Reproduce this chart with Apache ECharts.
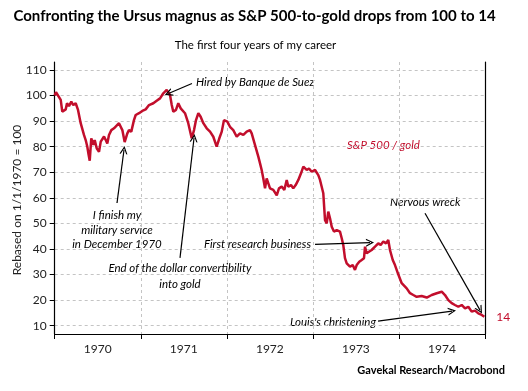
<!DOCTYPE html>
<html>
<head>
<meta charset="utf-8">
<script src="https://cdn.jsdelivr.net/npm/echarts@6/dist/echarts.min.js"></script>
<style>html,body{margin:0;padding:0;background:#fff}#c{width:528px;height:391px}</style>
</head>
<body>
<div id="c"></div>
<script>
// decimal years
var times = [1970.000,1970.015,1970.038,1970.070,1970.088,1970.128,1970.143,1970.166,1970.193,1970.216,1970.244,1970.271,1970.302,1970.340,1970.360,1970.379,1970.393,1970.407,1970.425,1970.449,1970.465,1970.488,1970.515,1970.535,1970.573,1970.593,1970.611,1970.631,1970.658,1970.689,1970.709,1970.747,1970.767,1970.786,1970.813,1970.844,1970.863,1970.890,1970.921,1970.941,1970.980,1971.018,1971.057,1971.096,1971.146,1971.185,1971.224,1971.262,1971.301,1971.340,1971.360,1971.378,1971.409,1971.436,1971.464,1971.487,1971.514,1971.552,1971.592,1971.619,1971.642,1971.669,1971.696,1971.727,1971.766,1971.805,1971.843,1971.882,1971.913,1971.941,1971.967,1972.006,1972.037,1972.075,1972.115,1972.153,1972.192,1972.231,1972.269,1972.289,1972.327,1972.366,1972.386,1972.405,1972.424,1972.444,1972.463,1972.482,1972.502,1972.540,1972.580,1972.606,1972.638,1972.668,1972.696,1972.714,1972.746,1972.772,1972.800,1972.831,1972.862,1972.889,1972.908,1972.928,1972.955,1972.986,1973.025,1973.063,1973.083,1973.121,1973.141,1973.161,1973.179,1973.199,1973.219,1973.245,1973.277,1973.315,1973.335,1973.353,1973.373,1973.393,1973.412,1973.431,1973.463,1973.489,1973.509,1973.539,1973.567,1973.594,1973.606,1973.625,1973.656,1973.683,1973.722,1973.760,1973.788,1973.818,1973.850,1973.876,1973.896,1973.928,1973.954,1973.993,1974.032,1974.090,1974.129,1974.167,1974.206,1974.264,1974.323,1974.381,1974.439,1974.497,1974.535,1974.574,1974.613,1974.651,1974.690,1974.729,1974.768,1974.806,1974.845,1974.884,1974.922,1974.962,1974.992];
var ratio = [100,101.3,100.9,98.3,93.7,94.6,97,95.9,97.6,96.3,97,94.4,89.2,84.6,82.6,80,77,74.5,83.3,80.7,82.6,79.4,78,82,84,82.6,81.3,84.6,86.5,87.2,86.8,89.2,89.8,86.5,81.8,85.2,86.5,85.9,90.4,92.4,93.1,94,94.6,96.3,97,98,98.9,100.9,102.2,100.2,96.3,93.7,94.4,97,95,95.6,93.1,89.2,83.3,86.5,90.4,93.1,91.7,89.2,87.2,85.9,83.9,80,83.3,85.9,90.4,89.8,87.8,86.5,83.9,85.2,84.6,85.9,86.5,85.2,80.7,76.1,73.5,70.9,67.6,63.7,67.6,67,63.7,63.1,61,63.7,64.4,63.1,67,64.4,65,63.7,65,67,69.6,72.2,72.8,70.9,71.5,70.2,70.9,68.9,67,61.8,51.3,50,54.6,52,48.7,46.8,47.4,46.8,44.2,41.6,36.4,34.4,35,33.1,33.7,31.8,33.7,35,35.7,36.4,40.9,38.3,39,39.6,40.9,42.2,41.6,42.9,42.2,43.5,39.6,35.7,33.7,30,26.6,24.6,22.7,22,21.3,21.6,21,22,22.7,23.3,22,20,18.8,18.1,17.4,18.1,16.8,17.4,15.5,15.9,14.8,14.2,13.5];
var yearLabels = ['1970','1971','1972','1973','1974'];
var yearLabelPos = [1970.5,1971.5,1972.5,1973.5,1974.5];
var yTicks = [10,20,30,40,50,60,70,80,90,100,110];
var endValueLabel = '14';

var RED = '#c20e2c';
var FONT = 'Lato';
var chart = echarts.init(document.getElementById('c'), null, {renderer:'canvas'});
var seriesData = times.map(function(t,i){return [t, ratio[i]];});
var chevron = 'path://M0,10 L5,0 L10,10 L8.4,10 L5,3.2 L1.6,10 Z';
function arrow(a, b){ return [{coord:a},{coord:b}]; }

var option = {
  animation:false,
  backgroundColor:'#fff',
  grid:{left:54.7, right:43, top:62, bottom:57},
  xAxis:{
    type:'value', min:1970, max:1975, interval:1,
    axisLine:{show:true, lineStyle:{color:'#000', width:1.2}},
    axisTick:{show:true, length:5, lineStyle:{color:'#000'}},
    axisLabel:{customValues:yearLabelPos, formatter:function(v){return yearLabels[Math.floor(v)-1970];}, color:'#222', fontFamily:FONT, fontSize:12, margin:9},
    splitLine:{show:true, lineStyle:{color:'#c4c4c4', type:[3,3], width:1}}
  },
  yAxis:[{
    type:'value', min:6.75, max:113.13,
    axisLine:{show:true, lineStyle:{color:'#000', width:1.2}},
    axisTick:{show:true, length:5, customValues:yTicks, lineStyle:{color:'#000'}},
    axisLabel:{customValues:yTicks, color:'#222', fontFamily:FONT, fontSize:12, margin:8},
    splitLine:{show:true, lineStyle:{color:'#c4c4c4', type:[3,3], width:1}}
  },{
    type:'value', min:6.75, max:113.13, position:'right',
    axisLine:{show:true, lineStyle:{color:'#000', width:1.2}},
    axisTick:{show:false}, axisLabel:{show:false}, splitLine:{show:false}
  }],
  series:[{
    type:'line', data:seriesData, showSymbol:false, yAxisIndex:0,
    lineStyle:{color:RED, width:2.5}, itemStyle:{color:RED},
    endLabel:{show:true, formatter:endValueLabel, color:RED, fontFamily:FONT, fontSize:12, distance:12},
    markLine:{
      silent:true, symbol:['none', chevron], symbolSize:[8,8],
      label:{show:false},
      lineStyle:{color:'#000', width:1.2, type:'solid'},
      data:[
        arrow([1971.595,104.7],[1971.322,100.8]),
        arrow([1970.724,58.0],[1970.805,78.7]),
        arrow([1971.456,36.5],[1971.619,83.4]),
        arrow([1973.025,41.8],[1973.664,42.5]),
        arrow([1974.303,54.0],[1974.942,16.1]),
        arrow([1973.757,11.8],[1974.617,15.7])
      ]
    }
  }],
  graphic:[
    {type:'text', x:254.5, y:16, style:{text:'Confronting the Ursus magnus as S&P 500-to-gold drops from 100 to 14', font:'bold 15px Lato', fill:'#000', align:'center', verticalAlign:'middle'}},
    {type:'text', x:255.5, y:45, style:{text:'The first four years of my career', font:'11.5px Lato', fill:'#000', align:'center', verticalAlign:'middle'}},
    {type:'text', x:17, y:200, rotation:Math.PI/2, style:{text:'Rebased on 1/1/1970 = 100', font:'12px Lato', fill:'#222', align:'center', verticalAlign:'middle'}},
    {type:'text', x:505, y:370, style:{text:'Gavekal Research/Macrobond', font:'bold 11px Lato', fill:'#000', align:'right', verticalAlign:'middle'}},
    {type:'text', x:196, y:82, style:{text:'Hired by Banque de Suez', font:'italic 11.5px Lato', fill:'#000', align:'left', verticalAlign:'middle'}},
    {type:'text', x:117, y:230, style:{text:'I finish my\nmilitary service\nin December 1970', font:'italic 11.5px Lato', lineHeight:14.7, fill:'#000', align:'center', verticalAlign:'middle'}},
    {type:'text', x:180, y:276, style:{text:'End of the dollar convertibility\ninto gold', font:'italic 11.5px Lato', lineHeight:16, fill:'#000', align:'center', verticalAlign:'middle'}},
    {type:'text', x:347, y:145, style:{text:'S&P 500 / gold', font:'italic 11.5px Lato', fill:RED, align:'left', verticalAlign:'middle'}},
    {type:'text', x:311, y:244, style:{text:'First research business', font:'italic 11.5px Lato', fill:'#000', align:'right', verticalAlign:'middle'}},
    {type:'text', x:390, y:202, style:{text:'Nervous wreck', font:'italic 11.5px Lato', fill:'#000', align:'left', verticalAlign:'middle'}},
    {type:'text', x:376, y:322, style:{text:"Louis's christening", font:'italic 11.5px Lato', fill:'#000', align:'right', verticalAlign:'middle'}}
  ]
};
chart.setOption(option);
</script>
</body>
</html>
